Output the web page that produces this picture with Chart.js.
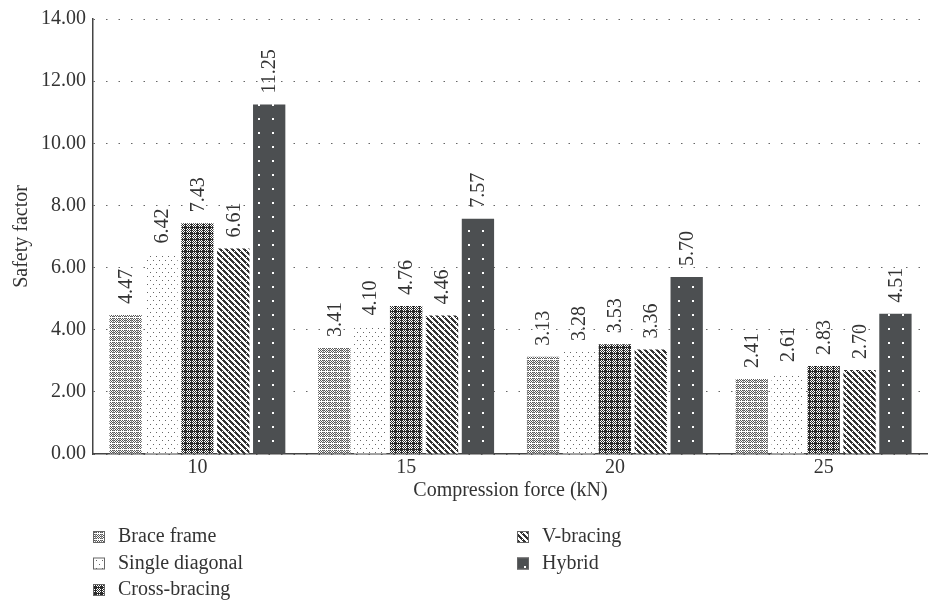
<!DOCTYPE html>
<html lang="en">
<head>
<meta charset="UTF-8">
<title>Safety factor</title>
<script src="https://cdn.jsdelivr.net/npm/chart.js"></script>
<style>
  body { margin: 0; background: #fff; }
  #grafico { display: block; }
</style>
</head>
<body>
<canvas id="grafico" width="928" height="605"></canvas>
<script>
  // valores
  var forcas = ['10', '15', '20', '25'];
  var braceFrame = [4.47, 3.41, 3.13, 2.41];
  var singleDiagonal = [6.42, 4.10, 3.28, 2.61];
  var crossBracing = [7.43, 4.76, 3.53, 2.83];
  var vBracing = [6.61, 4.46, 3.36, 2.70];
  var hybrid = [11.25, 7.57, 5.70, 4.51];
  var yTicks = [0, 2, 4, 6, 8, 10, 12, 14];

  var fonte = '"Liberation Serif", "DejaVu Serif", serif';

  // texturas das barras
  function textura(w, h, desenha) {
    var c = document.createElement('canvas');
    c.width = w; c.height = h;
    var g = c.getContext('2d');
    desenha(g);
    return document.getElementById('grafico').getContext('2d').createPattern(c, 'repeat');
  }

  var texBrace = textura(6, 6, function (g) {
    g.fillStyle = '#fff'; g.fillRect(0, 0, 6, 6);
    g.fillStyle = '#555';
    for (var y = 0; y < 5; y++)
      for (var x = 0; x < 5; x++)
        if ((x + y) % 2 == 0) g.fillRect(x, y, 1, 1);
    g.fillStyle = '#888';
    g.fillRect(5, 0, 1, 5);
  });

  var texSingle = textura(6, 8, function (g) {
    g.fillStyle = '#fff'; g.fillRect(0, 0, 6, 8);
    g.fillStyle = '#666';
    g.fillRect(0, 0, 1, 1);
    g.fillRect(3, 4, 1, 1);
  });

  var texCross = textura(6, 6, function (g) {
    g.fillStyle = '#fff'; g.fillRect(0, 0, 6, 6);
    g.fillStyle = '#2a2a2a';
    for (var y = 0; y < 6; y++)
      for (var x = 0; x < 6; x++)
        if ((x + y) % 2 == 0) g.fillRect(x, y, 1, 1);
    g.fillRect(0, 5, 6, 1);
    g.fillRect(5, 0, 1, 6);
  });

  var texV = textura(6, 6, function (g) {
    g.fillStyle = '#fff'; g.fillRect(0, 0, 6, 6);
    g.fillStyle = '#333';
    for (var i = 0; i < 6; i++) {
      g.fillRect(i, i, 2, 1);
      g.fillRect((i + 2) % 6, i, 1, 1);
    }
  });

  var texHybrid = textura(14, 14, function (g) {
    g.fillStyle = '#4c4f51'; g.fillRect(0, 0, 14, 14);
    g.fillStyle = '#fff';
    g.fillRect(6, 6, 2, 2);
  });

  var pluginRotulos = {
    id: 'rotulos',
    afterDatasetsDraw: function (chart) {
      var ctx = chart.ctx;
      ctx.save();
      ctx.font = '20px ' + fonte;
      ctx.fillStyle = '#333';
      ctx.textAlign = 'left';
      ctx.textBaseline = 'middle';
      chart.data.datasets.forEach(function (ds, i) {
        chart.getDatasetMeta(i).data.forEach(function (bar, j) {
          ctx.save();
          ctx.translate(bar.x + 1, bar.y - 11);
          ctx.rotate(-Math.PI / 2);
          ctx.fillText(ds.data[j].toFixed(2), 0, 0);
          ctx.restore();
        });
      });
      ctx.restore();
    }
  };

  var pluginLegenda = {
    id: 'legendaColunas',
    afterDraw: function (chart) {
      var ctx = chart.ctx;
      var x0 = chart.chartArea.left;
      var colunas = [x0, x0 + 424];
      var topo = 537;
      ctx.save();
      ctx.font = '20px ' + fonte;
      ctx.textBaseline = 'middle';
      chart.data.datasets.forEach(function (ds, i) {
        var col = i < 3 ? 0 : 1;
        var lin = i < 3 ? i : i - 3;
        var x = colunas[col];
        var y = topo + lin * 26.5;
        ctx.fillStyle = ds.backgroundColor;
        ctx.fillRect(x, y - 6, 12, 12);
        ctx.strokeStyle = '#666';
        ctx.lineWidth = 1;
        ctx.strokeRect(x + 0.5, y - 5.5, 11, 11);
        ctx.fillStyle = '#333';
        ctx.fillText(ds.label, x + 25, y);
      });
      ctx.restore();
    }
  };

  new Chart(document.getElementById('grafico').getContext('2d'), {
    type: 'bar',
    data: {
      labels: forcas,
      datasets: [
        { label: 'Brace frame', data: braceFrame, backgroundColor: texBrace },
        { label: 'Single diagonal', data: singleDiagonal, backgroundColor: texSingle },
        { label: 'Cross-bracing', data: crossBracing, backgroundColor: texCross },
        { label: 'V-bracing', data: vBracing, backgroundColor: texV },
        { label: 'Hybrid', data: hybrid, backgroundColor: texHybrid }
      ]
    },
    options: {
      responsive: false,
      animation: false,
      categoryPercentage: 0.86,
      barPercentage: 0.9,
      layout: { padding: { top: 2, right: 0, bottom: 102, left: 5 } },
      plugins: {
        legend: { display: false },
        tooltip: { enabled: false }
      },
      scales: {
        x: {
          grid: { display: false, drawTicks: false },
          border: { color: '#444', width: 1.5 },
          ticks: { color: '#333', font: { family: fonte, size: 20 }, padding: 2 },
          title: {
            display: true,
            text: 'Compression force (kN)',
            color: '#333',
            font: { family: fonte, size: 20 },
            padding: { top: -3, bottom: 0 }
          }
        },
        y: {
          min: 0,
          max: 14,
          afterBuildTicks: function (axis) {
            axis.ticks = yTicks.map(function (v) { return { value: v }; });
          },
          grid: { color: '#666', drawTicks: false },
          border: { color: '#444', width: 1.5, dash: [1.5, 11] },
          ticks: {
            color: '#333',
            font: { family: fonte, size: 20 },
            padding: 7,
            callback: function (v) { return v.toFixed(2); }
          },
          title: {
            display: true,
            text: 'Safety factor',
            color: '#333',
            font: { family: fonte, size: 20 },
            padding: { top: 5, bottom: 0 }
          }
        }
      }
    },
    plugins: [pluginRotulos, pluginLegenda]
  });
</script>
</body>
</html>
